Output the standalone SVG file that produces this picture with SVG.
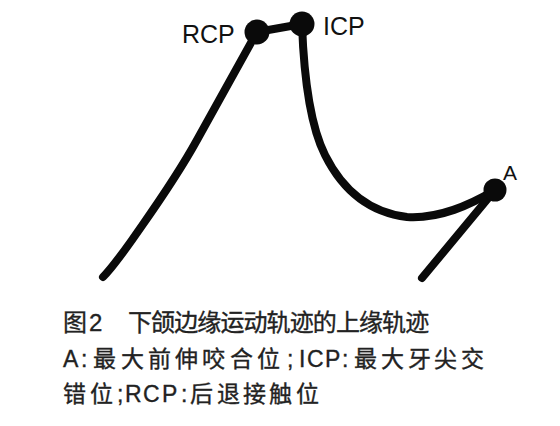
<svg xmlns="http://www.w3.org/2000/svg" width="560" height="426" viewBox="0 0 560 426">
<style>
.trk{fill:none;stroke:#0a0a0a;stroke-width:8;stroke-linecap:round;stroke-linejoin:round}
.dot{fill:#0a0a0a}
.lbl{font-family:"Liberation Sans","Noto Sans CJK SC",sans-serif;fill:#111}
.cap{font-family:"Liberation Sans","Noto Sans CJK SC",sans-serif;fill:#222;stroke:#222;stroke-width:0.35}
</style>
<rect width="560" height="426" fill="#ffffff"/>
<g id="connectors">
<path class="trk" d="M103,277 C112,268 122,254 132,240 C150,214 175,180 197,140 L257,32"/>
<path class="trk" d="M257,32 L302,24"/>
<path class="trk" d="M302,24 C304,80 310,125 325,155 C340,185 365,212 407,217 C440,219 470,205 495,190"/>
<path class="trk" d="M495,190 L422,278"/>
</g>
<g id="RCP">
<circle class="dot" cx="257" cy="32" r="12.5"/>
<text class="lbl" x="182" y="43" font-size="25">RCP</text>
</g>
<g id="ICP">
<circle class="dot" cx="302" cy="24" r="12.5"/>
<text class="lbl" x="323" y="35" font-size="25">ICP</text>
</g>
<g id="A">
<circle class="dot" cx="495" cy="190" r="11.5"/>
<text class="lbl" x="503" y="180" font-size="21">A</text>
</g>
<g id="caption">
<text class="cap" y="331" font-size="24"><tspan x="63 89">图2</tspan><tspan x="128 151.1 174.2 197.3 220.4 243.5 266.6 289.7 312.8 335.9 359 382.1 405.2 428.3">下颌边缘运动轨迹的上缘轨迹</tspan></text>
<text class="cap" y="367" font-size="23" x="63 81 93 121 148 175 202 230 257 287 299 307 325 342 354 381 408 434 461">A:最大前伸咬合位;ICP:最大牙尖交</text>
<text class="cap" y="402" font-size="23" x="63 90 117 125 143 162 181 190 217 243 269 296">错位;RCP:后退接触位</text>
</g>
</svg>
